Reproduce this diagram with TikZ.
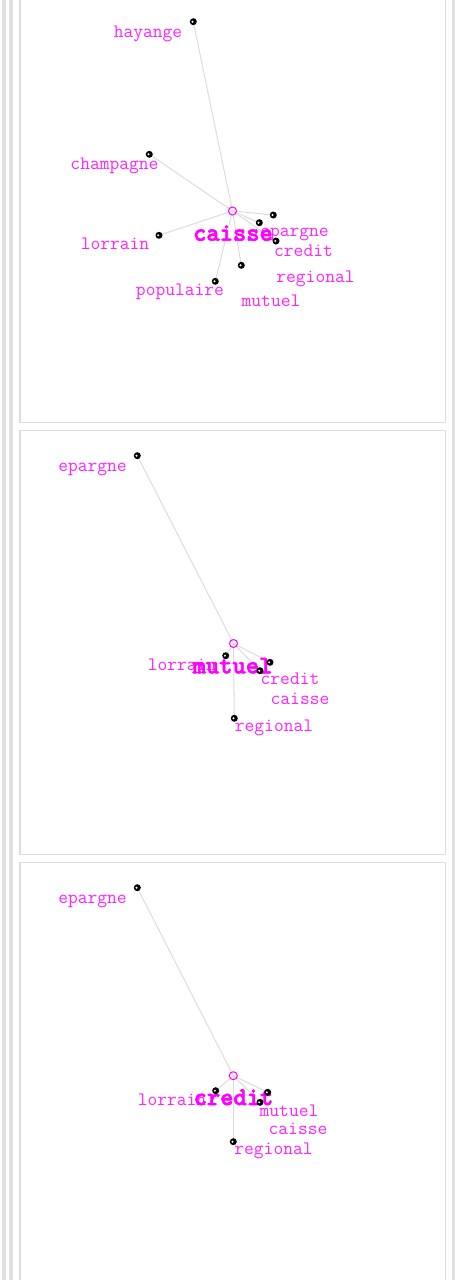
\documentclass[tikz,border=0pt]{standalone}
\usepackage{fontspec}
\newfontfamily\hubfont{lmmonolt10-bold.otf}[FakeBold=2.5]
\usetikzlibrary{backgrounds}
\definecolor{frame}{HTML}{DDDDDD}
\definecolor{bar}{HTML}{E0E0E0}
\definecolor{edgec}{HTML}{DCDCDC}
\definecolor{lab}{HTML}{FF22FF}
\definecolor{mag}{HTML}{FF00FF}
\begin{document}
\begin{tikzpicture}[x=1pt,y=-1pt,
  word/.style={anchor=base,inner sep=0pt,text=lab,font=\ttfamily\fontsize{19}{21}\selectfont},
  hub/.style={anchor=base,inner sep=0pt,text=mag,font=\hubfont\fontsize{25.3}{27}\selectfont},
  ctr/.style={circle,draw=mag,line width=1pt,minimum size=8pt,inner sep=0pt},
  dot/.style={circle,fill=black,minimum size=7pt,inner sep=0pt,
     path picture={\fill[white] ([xshift=-0.8pt]path picture bounding box.center) circle (1.1pt);}},
  link/.style={draw=edgec,line width=1pt},
  panel/.style={draw=frame,line width=1.6pt}]
\useasboundingbox (0,0) rectangle (457,1280);
% side bars
\fill[bar] (2,0) rectangle (6,1280);
\fill[bar] (9,0) rectangle (13,1280);
\fill[bar] (451.5,0) rectangle (455,1280);
% panels
\draw[panel] (20,-5) rectangle (445.5,422.5);
\draw[panel] (20,430.5) rectangle (445.5,854.5);
\draw[panel] (20,862.5) rectangle (445.5,1290);

% ---------- panel 1: caisse ----------
\node[word] (l1hay) at (148,37) {hayange};
\node[word] (l1cha) at (114.5,169.3) {champagne};
\node[word] (l1lor) at (115,249.3) {lorrain};
\node[word] (l1epa) at (294.5,236.7) {epargne};
\node[word] (l1cre) at (303.5,256.7) {credit};
\node[word] (l1reg) at (315.5,282.7) {regional};
\node[word] (l1pop) at (180,295.3) {populaire};
\node[word] (l1mut) at (271,306.7) {mutuel};
\node[hub] (l1hub) at (233,240.7) {caisse};
\node[ctr] (c1) at (232.5,211) {};
\node[dot] (d1hay) at (193.3,21.7) {};
\node[dot] (d1cha) at (149.3,154.3) {};
\node[dot] (d1lor) at (159,235.3) {};
\node[dot] (d1pop) at (215.3,281.3) {};
\node[dot] (d1mut) at (241.3,265.3) {};
\node[dot] (d1reg) at (273.3,215) {};
\node[dot] (d1epa) at (259.3,222.7) {};
\node[dot] (d1cre) at (276,241) {};
\begin{scope}[on background layer]
\foreach \d in {d1hay,d1cha,d1lor,d1pop,d1mut,d1reg,d1epa,d1cre}
  \draw[link] (c1.center) -- (\d.center);
\end{scope}

% ---------- panel 2: mutuel ----------
\node[word] (l2epa) at (92.5,471.7) {epargne};
\node[word] (l2lor) at (182,670.7) {lorrain};
\node[word] (l2cre) at (290,684.3) {credit};
\node[word] (l2cai) at (300,704.3) {caisse};
\node[word] (l2reg) at (274,731.7) {regional};
\node[hub] (l2hub) at (232.5,673.3) {mutuel};
\node[ctr] (c2) at (233.5,643.5) {};
\node[dot] (d2epa) at (137.3,455.7) {};
\node[dot] (d2lor) at (225.7,655.7) {};
\node[dot] (d2cai) at (270,662.3) {};
\node[dot] (d2cre) at (260,670.7) {};
\node[dot] (d2reg) at (234.3,718.3) {};
\begin{scope}[on background layer]
\foreach \d in {d2epa,d2lor,d2cai,d2cre,d2reg}
  \draw[link] (c2.center) -- (\d.center);
\end{scope}

% ---------- panel 3: credit ----------
\node[word] (l3epa) at (92.5,903.7) {epargne};
\node[word] (l3lor) at (172,1105) {lorrain};
\node[word] (l3mut) at (289,1116) {mutuel};
\node[word] (l3cai) at (298,1134) {caisse};
\node[word] (l3reg) at (273.5,1154.3) {regional};
\node[hub] (l3hub) at (233.5,1105) {credit};
\node[ctr] (c3) at (233.3,1075.7) {};
\node[dot] (d3epa) at (137.3,887.7) {};
\node[dot] (d3lor) at (215.7,1090.7) {};
\node[dot] (d3cai) at (267.7,1092.3) {};
\node[dot] (d3mut) at (260,1102.3) {};
\node[dot] (d3reg) at (233.3,1141.7) {};
\begin{scope}[on background layer]
\foreach \d in {d3epa,d3lor,d3cai,d3mut,d3reg}
  \draw[link] (c3.center) -- (\d.center);
\end{scope}
\end{tikzpicture}
\end{document}
